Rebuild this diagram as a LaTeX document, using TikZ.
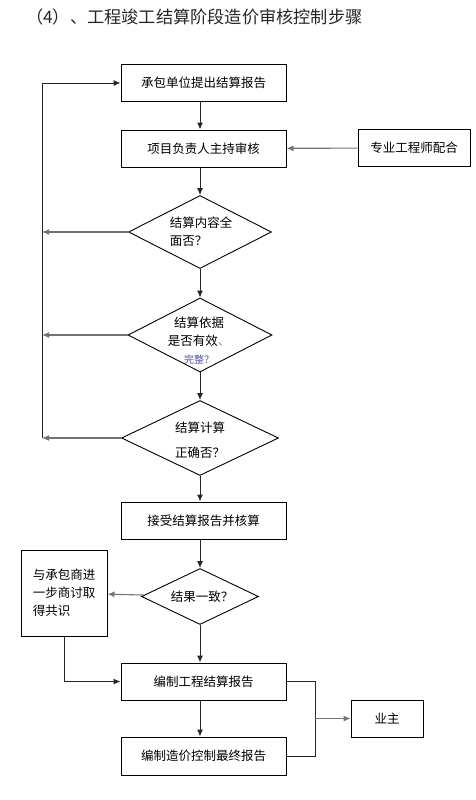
\documentclass[tikz,border=0pt]{standalone}
\usepackage{fontspec}
\setmainfont{Noto Sans CJK SC}
\usetikzlibrary{shapes.geometric,arrows.meta}
\tikzset{
  box/.style={draw, line width=1pt, minimum width=165pt, minimum height=37pt, inner sep=0pt, font=\fontsize{12.5}{15}\selectfont},
  ask/.style={draw, diamond, line width=0.9pt, inner sep=0pt},
  asktext/.style={inner sep=0pt, font=\fontsize{12.5}{18}\selectfont, align=left},
  link/.style={draw=black!85, line width=1pt},
  back/.style={draw=black!55, line width=1.1pt}
}
\begin{document}
\begin{tikzpicture}[x=1pt, y=-1pt, >={Latex[length=7pt,width=6pt]}]
\useasboundingbox (0,0) rectangle (475,800);
% Titel
\node[anchor=west, text=black!85, font=\fontsize{17.2}{20}\selectfont, inner sep=0pt] (title) at (26,17) {（4）、工程竣工结算阶段造价审核控制步骤};
% Hauptkette
\node[box] (submit) at (203.5,83) {承包单位提出结算报告};
\node[box] (review) at (203.5,148.5) {项目负责人主持审核};
\node[box, minimum width=112pt] (expert) at (414,148) {专业工程师配合};
\node[ask, minimum width=143pt, minimum height=73pt] (full) at (200,232) {};
\node[asktext] (fulltxt) at (201,232) {结算内容全\\面否？};
\node[ask, minimum width=144pt, minimum height=74pt] (basis) at (200,335) {};
\node[asktext, anchor=center, align=center] (basistxt) at (199,341) {结算依据\\是否有效\textcolor{black!40}{、}\\{\fontsize{10}{12}\selectfont\textcolor{blue!45!black!70}{完整？}}};
\node[ask, minimum width=157pt, minimum height=75pt] (calc) at (200,438) {};
\node[asktext, align=center, font=\fontsize{12.5}{25}\selectfont] (calctxt) at (200,440) {结算计算\\正确否？};
\node[box] (accept) at (203.5,520.5) {接受结算报告并核算};
\node[ask, minimum width=117pt, minimum height=56pt] (agree) at (200,596.5) {};
\node[asktext] (agreetxt) at (202,596.5) {结果一致？};
\node[draw, line width=1pt, minimum width=86pt, minimum height=86pt, inner sep=0pt, align=left, font=\fontsize{12.5}{18}\selectfont] (consult) at (64,593) {与承包商进\\一步商讨取\\得共识};
\node[box] (draft) at (203.5,681.5) {编制工程结算报告};
\node[box, minimum height=38pt] (final) at (203.5,756) {编制造价控制最终报告};
\node[draw, line width=1pt, minimum width=72pt, minimum height=37pt, inner sep=0pt, font=\fontsize{12.5}{15}\selectfont] (owner) at (387,718.5) {业主};
% Ruecklauf links
\coordinate (lft) at (42,83);
\draw[link] (calc.west -| lft) -- (lft);
\draw[link, ->] (lft) -- (submit.west);
\draw[back, ->] (full.west) -- (full.west -| lft);
\draw[back, ->] (basis.west) -- (basis.west -| lft);
\draw[back, ->] (calc.west) -- (calc.west -| lft);
% Pfeile abwaerts
\coordinate (axis) at (200,0);
\draw[link, ->] (submit.south -| axis) -- (review.north -| axis);
\draw[back, ->] (expert) -- (review);
\draw[link, ->] (review.south -| axis) -- (full.north);
\draw[link, ->] (full) -- (basis);
\draw[link, ->] (basis) -- (calc);
\draw[link, ->] (calc.south) -- (accept.north -| axis);
\draw[link, ->] (accept.south -| axis) -- (agree.north);
\draw[back, ->] (agree) -- (consult);
\draw[link, ->] (agree.south) -- (draft.north -| axis);
\draw[link, ->] (consult.south) |- (draft.west);
\draw[link, ->] (draft.south -| axis) -- (final.north -| axis);
% Ergebnis an Bauherrn
\coordinate (rgt) at (315,0);
\draw[link] (draft.east) -- (draft.east -| rgt) -- (final.east -| rgt) -- (final.east);
\draw[back, ->] (owner.west -| rgt) -- (owner.west);
\end{tikzpicture}
\end{document}
